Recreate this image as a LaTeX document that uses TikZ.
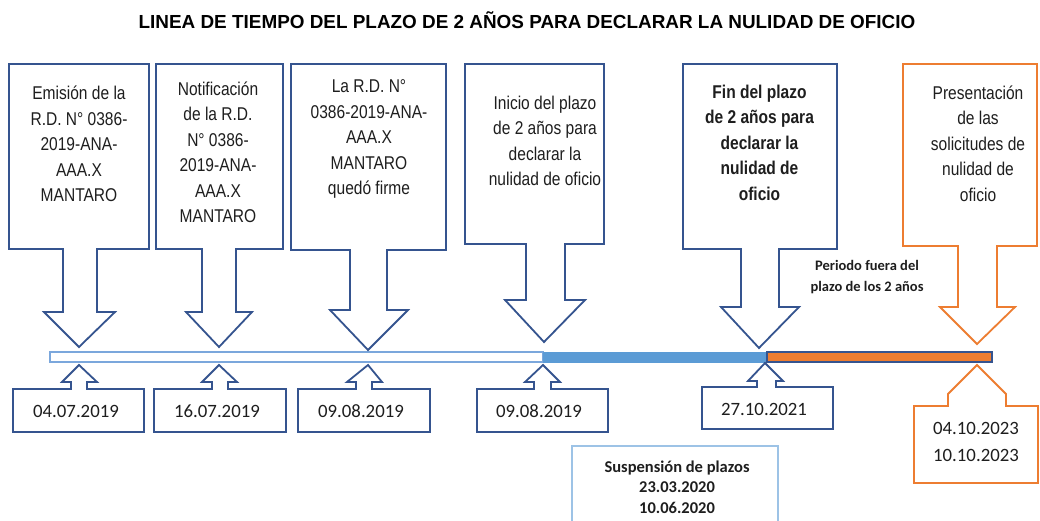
\documentclass[tikz,border=0pt]{standalone}
\usepackage{fontspec}
\setmainfont{Liberation Sans}
\newfontfamily\narrowfont[FakeStretch=0.84]{Liberation Sans}
\newfontfamily\calfont{Carlito}
\definecolor{navy}{HTML}{35548F}
\definecolor{orng}{HTML}{ED7D31}
\definecolor{bluefill}{HTML}{5B9BD5}
\definecolor{blueline}{HTML}{7BA7DC}
\definecolor{palebox}{HTML}{9DC3E6}
\definecolor{txt}{HTML}{1E1E1E}
\tikzset{
  callout/.style={draw=navy, line width=1.8pt, line join=miter},
  ocallout/.style={draw=orng, line width=1.8pt, line join=miter},
  boxtext/.style={font={\narrowfont\fontsize{18.5}{25.5}\selectfont}, align=center, text=txt, inner sep=0pt},
  boldboxtext/.style={font={\narrowfont\bfseries\fontsize{18.5}{25.5}\selectfont}, align=center, text=txt, inner sep=0pt},
  datetext/.style={font={\calfont\fontsize{18.8}{27}\selectfont}, align=center, text=txt, inner sep=0pt},
  smallbold/.style={font={\calfont\bfseries\fontsize{14.5}{20.5}\selectfont}, align=center, text=txt, inner sep=0pt},
  suspbold/.style={font={\calfont\bfseries\fontsize{16.5}{20.5}\selectfont}, align=center, text=txt, inner sep=0pt},
}
\begin{document}
\begin{tikzpicture}[x=1pt,y=-1pt]
\useasboundingbox (0,0) rectangle (1040,521);
\fill[white] (0,0) rectangle (1040,521);

% title
\node[font={\bfseries\fontsize{18.9}{22}\selectfont}, inner sep=0pt] (title) at (527,20) {LINEA DE TIEMPO DEL PLAZO DE 2 AÑOS PARA DECLARAR LA NULIDAD DE OFICIO};

% timeline bar
\draw[blueline, line width=1.5pt, fill=white] (50,352) rectangle (543,362);
\fill[bluefill] (543,351.5) rectangle (767,362.5);
\draw[navy, line width=1.5pt, fill=orng] (767,352) rectangle (992,362);

% down callouts
\draw[callout] (9,64) -- (149,64) -- (149,249) -- (97,249) -- (97,312) -- (115,312) -- (79,347) -- (44,312) -- (63,312) -- (63,249) -- (9,249) -- cycle;
\draw[callout] (156,64) -- (283,64) -- (283,249) -- (236,249) -- (236,312) -- (252,312) -- (219,347) -- (186,312) -- (202,312) -- (202,249) -- (156,249) -- cycle;
\draw[callout] (291,64) -- (446,64) -- (446,250) -- (387,250) -- (387,310) -- (408,310) -- (368,350) -- (330,310) -- (350,310) -- (350,250) -- (291,250) -- cycle;
\draw[callout] (465,64) -- (604,64) -- (604,244) -- (565,244) -- (565,300) -- (585,300) -- (544,342) -- (505,300) -- (526,300) -- (526,244) -- (465,244) -- cycle;
\draw[callout] (683,64) -- (837,64) -- (837,249) -- (779,249) -- (779,307) -- (799,307) -- (759,348) -- (721,307) -- (741,307) -- (741,249) -- (683,249) -- cycle;
\draw[ocallout] (903,64) -- (1037,64) -- (1037,246) -- (997,246) -- (997,307) -- (1015,307) -- (977,344) -- (940,307) -- (958,307) -- (958,246) -- (903,246) -- cycle;

% up callouts (dates)
\draw[callout] (13,432) -- (13,389) -- (71,389) -- (71,382) -- (62,382) -- (79,365) -- (97,382) -- (87,382) -- (87,389) -- (144,389) -- (144,432) -- cycle;
\draw[callout] (154,432) -- (154,389) -- (212,389) -- (212,382) -- (202,382) -- (219,365) -- (237,382) -- (228,382) -- (228,389) -- (286,389) -- (286,432) -- cycle;
\draw[callout] (298,432) -- (298,389) -- (356,389) -- (356,382) -- (347,382) -- (368,365) -- (382,382) -- (372,382) -- (372,389) -- (430,389) -- (430,432) -- cycle;
\draw[callout] (477,432) -- (477,389) -- (534,389) -- (534,382) -- (525,382) -- (543,365) -- (560,382) -- (551,382) -- (551,389) -- (608,389) -- (608,432) -- cycle;
\draw[callout] (702,429) -- (702,387) -- (757,387) -- (757,381) -- (748,381) -- (765,363) -- (783,381) -- (776,381) -- (776,387) -- (833,387) -- (833,429) -- cycle;
\draw[ocallout] (914,483) -- (914,406) -- (948,406) -- (948,394) -- (977,365) -- (1006,394) -- (1006,406) -- (1038,406) -- (1038,483) -- cycle;

% suspension box (runs off the bottom edge)
\draw[palebox, line width=1.2pt] (572,522) -- (572,446) -- (778,446) -- (778,522);

% box texts
\node[boxtext] (t1) at (79,144) {Emisión de la\\R.D. N° 0386-\\2019-ANA-\\AAA.X\\MANTARO};
\node[boxtext] (t2) at (218,152.5) {Notificación\\de la R.D.\\N° 0386-\\2019-ANA-\\AAA.X\\MANTARO};
\node[boxtext] (t3) at (369,139) {La R.D. N°\\0386-2019-ANA-\\AAA.X\\MANTARO\\quedó firme};
\node[boxtext] (t4) at (545,141) {Inicio del plazo\\de 2 años para\\declarar la\\nulidad de oficio};
\node[boldboxtext] (t5) at (759.5,142.5) {Fin del plazo\\de 2 años para\\declarar la\\nulidad de\\oficio};
\node[boxtext] (t6) at (978,143.5) {Presentación\\de las\\solicitudes de\\nulidad de\\oficio};

\node[smallbold] (periodo) at (867,277) {Periodo fuera del\\plazo de los 2 años};

% dates
\node[datetext] (d1) at (76,411) {04.07.2019};
\node[datetext] (d2) at (217,411) {16.07.2019};
\node[datetext] (d3) at (361,411) {09.08.2019};
\node[datetext] (d4) at (539,411) {09.08.2019};
\node[datetext] (d5) at (764,409) {27.10.2021};
\node[datetext] (d6) at (976,442) {04.10.2023\\10.10.2023};

\node[suspbold] (susp) at (677,487) {Suspensión de plazos\\23.03.2020\\10.06.2020};
\end{tikzpicture}
\end{document}
